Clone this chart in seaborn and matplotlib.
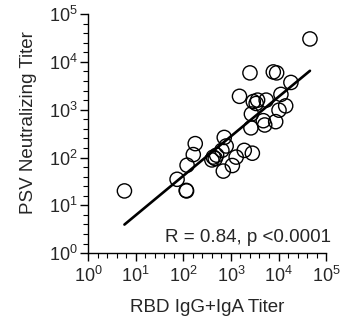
import numpy as np
import pandas as pd
import matplotlib
matplotlib.use("Agg")
import matplotlib.pyplot as plt
import matplotlib.ticker as mticker
import seaborn as sns

# Data
rbd_titer = [5.8, 117, 115, 74, 120, 162, 178, 398, 427, 468, 501, 646, 724, 794,
             692, 1072, 1288, 1905, 2818, 1514, 2512, 2630, 2692, 2951, 3388, 3631,
             5495, 4786, 5129, 8710, 10233, 14125, 11220, 7762, 9120, 18197, 45709]
psv_titer = [20, 20, 20.5, 35, 69, 115, 195, 89, 102, 95, 112, 141, 263, 174,
             52, 68, 102, 141, 123, 1905, 5888, 417, 813, 1479, 1349, 1585,
             1585, 589, 479, 562, 977, 1202, 2089, 6166, 5888, 3715, 30200]
x_label = "RBD IgG+IgA Titer"
y_label = "PSV Neutralizing Titer"
annotation = "R = 0.84, p <0.0001"

sns.set_theme(style="ticks")
plt.rcParams["font.family"] = ["Liberation Sans", "DejaVu Sans"]
plt.rcParams["mathtext.fontset"] = "custom"
plt.rcParams["mathtext.rm"] = "Liberation Sans"
plt.rcParams["mathtext.it"] = "Liberation Sans:italic"
plt.rcParams["mathtext.bf"] = "Liberation Sans:bold"

df = pd.DataFrame({"rbd": rbd_titer, "psv": psv_titer})

fig = plt.figure(figsize=(3.64, 3.2), dpi=100)
ax = fig.add_axes([0.242, 0.209, 0.654, 0.747])

sns.scatterplot(data=df, x="rbd", y="psv", ax=ax, marker="o", s=105,
                facecolor="none", edgecolor="black", linewidth=1.0, zorder=3)

# regression in log-log space
lx = np.log10(df["rbd"].to_numpy())
ly = np.log10(df["psv"].to_numpy())
slope, intercept = np.polyfit(lx, ly, 1)
xs = np.linspace(lx.min(), lx.max(), 50)
fit = pd.DataFrame({"x": 10 ** xs, "y": 10 ** (intercept + slope * xs)})
sns.lineplot(data=fit, x="x", y="y", ax=ax, color="black", linewidth=1.9, zorder=4)

ax.set_xscale("log")
ax.set_yscale("log")
ax.set_xlim(1, 1e5)
ax.set_ylim(1, 1e5)

major = [10.0 ** k for k in range(6)]
minor = [10.0 ** (k + 0.2 * j) for k in range(5) for j in range(1, 5)]
for axis in (ax.xaxis, ax.yaxis):
    axis.set_major_locator(mticker.FixedLocator(major))
    axis.set_minor_locator(mticker.FixedLocator(minor))
    axis.set_major_formatter(mticker.LogFormatterSciNotation())
    axis.set_minor_formatter(mticker.NullFormatter())

ax.tick_params(which="major", length=6, width=1, direction="out", labelsize=13, pad=1.5, color="black")
ax.tick_params(axis="x", which="major", pad=3.5)
ax.tick_params(which="minor", length=3.5, width=0.8, direction="out", color="black")

for side in ("top", "right"):
    ax.spines[side].set_visible(False)
for side in ("left", "bottom"):
    ax.spines[side].set_linewidth(1.0)
    ax.spines[side].set_color("black")

ax.set_xlabel(x_label, fontsize=13.5, labelpad=9)
ax.set_ylabel(y_label, fontsize=13.5)
ax.yaxis.set_label_coords(-0.215, 0.548)
ax.text(1.02, 0.03, annotation, transform=ax.transAxes, ha="right", va="bottom", fontsize=13.5)

fig.savefig("out.png", dpi=100)
